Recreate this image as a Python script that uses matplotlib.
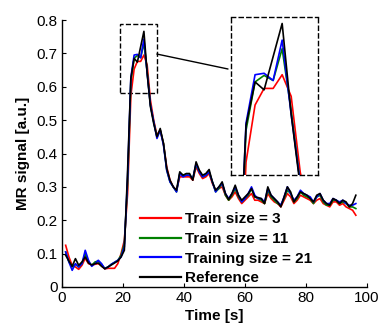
import numpy as np
import matplotlib
matplotlib.use("Agg")
import matplotlib.pyplot as plt
from matplotlib.patches import Rectangle, ConnectionPatch
from matplotlib.ticker import FuncFormatter

plt.rcParams["font.family"] = ["Liberation Sans", "DejaVu Sans"]

# sampling grid of the dynamic series (one frame every ~1.07 s)
n_frames = 90
frame_interval = 1.069
first_frame = 1.2
time_s = first_frame + frame_interval * np.arange(n_frames)

train_3 = [
    0.125, 0.090, 0.065, 0.060, 0.053, 0.065, 0.086, 0.070, 0.066, 0.068,
    0.070, 0.064, 0.054, 0.056, 0.056, 0.056, 0.070, 0.100, 0.140, 0.280,
    0.574, 0.653, 0.676, 0.676, 0.695,
    0.665, 0.560, 0.500, 0.455, 0.470, 0.430, 0.360, 0.320, 0.300, 0.290,
    0.330, 0.330, 0.330, 0.330, 0.320, 0.360, 0.340, 0.325, 0.330, 0.340,
    0.310, 0.290, 0.295, 0.300, 0.275, 0.260, 0.270, 0.285, 0.265, 0.250,
    0.260, 0.270, 0.280, 0.260, 0.260, 0.255, 0.250, 0.280, 0.265, 0.255,
    0.250, 0.240, 0.260, 0.280, 0.270, 0.250, 0.260, 0.275, 0.270, 0.265,
    0.260, 0.250, 0.260, 0.265, 0.250, 0.245, 0.240, 0.255, 0.255, 0.245,
    0.250, 0.240, 0.235, 0.230, 0.215,
]
train_11 = [
    0.105, 0.075, 0.060, 0.068, 0.060, 0.070, 0.100, 0.075, 0.065, 0.075,
    0.078, 0.068, 0.055, 0.060, 0.068, 0.074, 0.080, 0.095, 0.130, 0.310,
    0.618, 0.685, 0.694, 0.687, 0.731,
    0.645, 0.545, 0.495, 0.450, 0.470, 0.430, 0.350, 0.315, 0.300, 0.285,
    0.340, 0.335, 0.335, 0.335, 0.325, 0.365, 0.345, 0.330, 0.335, 0.345,
    0.315, 0.285, 0.295, 0.310, 0.275, 0.260, 0.275, 0.295, 0.270, 0.255,
    0.265, 0.275, 0.295, 0.270, 0.265, 0.260, 0.250, 0.290, 0.270, 0.260,
    0.250, 0.245, 0.265, 0.290, 0.280, 0.255, 0.265, 0.285, 0.275, 0.270,
    0.265, 0.250, 0.270, 0.275, 0.255, 0.245, 0.245, 0.260, 0.260, 0.250,
    0.255, 0.250, 0.240, 0.240, 0.235,
]
train_21 = [
    0.105, 0.075, 0.050, 0.070, 0.060, 0.070, 0.110, 0.080, 0.062, 0.070,
    0.080, 0.070, 0.055, 0.060, 0.068, 0.074, 0.080, 0.090, 0.120, 0.330,
    0.628, 0.695, 0.697, 0.687, 0.743,
    0.640, 0.545, 0.495, 0.445, 0.470, 0.425, 0.350, 0.315, 0.300, 0.285,
    0.340, 0.330, 0.335, 0.335, 0.325, 0.370, 0.345, 0.330, 0.335, 0.345,
    0.315, 0.285, 0.300, 0.310, 0.280, 0.265, 0.280, 0.300, 0.275, 0.255,
    0.265, 0.280, 0.300, 0.275, 0.265, 0.265, 0.255, 0.295, 0.275, 0.265,
    0.255, 0.245, 0.270, 0.300, 0.280, 0.260, 0.270, 0.290, 0.280, 0.275,
    0.270, 0.255, 0.270, 0.280, 0.260, 0.250, 0.250, 0.265, 0.260, 0.255,
    0.260, 0.250, 0.245, 0.245, 0.250,
]
reference = [
    0.095, 0.078, 0.062, 0.085, 0.065, 0.075, 0.090, 0.072, 0.066, 0.070,
    0.072, 0.062, 0.055, 0.060, 0.066, 0.072, 0.078, 0.090, 0.110, 0.350,
    0.625, 0.685, 0.674, 0.720, 0.766,
    0.640, 0.540, 0.490, 0.450, 0.475, 0.430, 0.355, 0.320, 0.300, 0.290,
    0.345, 0.335, 0.340, 0.340, 0.320, 0.375, 0.350, 0.335, 0.340, 0.352,
    0.315, 0.290, 0.300, 0.315, 0.280, 0.262, 0.280, 0.305, 0.275, 0.260,
    0.270, 0.280, 0.295, 0.270, 0.268, 0.265, 0.250, 0.300, 0.275, 0.265,
    0.255, 0.240, 0.270, 0.300, 0.285, 0.255, 0.270, 0.285, 0.280, 0.275,
    0.265, 0.255, 0.275, 0.280, 0.260, 0.250, 0.245, 0.265, 0.260, 0.250,
    0.260, 0.255, 0.240, 0.250, 0.275,
]

series = [
    ("Train size = 3", train_3, "#ff0000"),
    ("Train size = 11", train_11, "#008000"),
    ("Training size = 21", train_21, "#0000ff"),
    ("Reference", reference, "#000000"),
]

zoom_x = (19.0, 31.1)
zoom_y = (0.58, 0.787)
inset_xlim = (20.8, 31.1)
inset_ylim = (0.556, 0.775)


def draw_series(ax, lw):
    for label, values, color in series:
        ax.plot(time_s, values, color=color, lw=lw, label=label)


fig = plt.figure(figsize=(3.8, 3.26), dpi=100)
ax = fig.add_axes([62 / 380, 39 / 326, 305 / 380, 267 / 326])
draw_series(ax, lw=1.2)

ax.set_xlim(0, 100)
ax.set_ylim(0, 0.8)
ax.set_xticks([0, 20, 40, 60, 80, 100])
ax.set_yticks(np.arange(0, 0.81, 0.1))
ax.yaxis.set_major_formatter(FuncFormatter(lambda v, _: f"{v:g}"))
ax.tick_params(direction="in", length=3, width=0.8, labelsize=11, pad=3)
for side in ("top", "right"):
    ax.spines[side].set_visible(False)
for side in ("left", "bottom"):
    ax.spines[side].set_linewidth(1.0)

ax.set_xlabel("Time [s]", fontsize=11, fontweight="bold", labelpad=3)
ax.set_ylabel("MR signal [a.u.]", fontsize=11, fontweight="bold", labelpad=5)

leg = ax.legend(
    loc="lower left",
    bbox_to_anchor=(0.25, 0.0),
    frameon=False,
    borderaxespad=0,
    borderpad=0.1,
    handlelength=2.7,
    handletextpad=0.25,
    labelspacing=0.38,
    prop={"size": 11, "weight": "bold"},
)
for line in leg.get_lines():
    line.set_linewidth(1.6)

ax.add_patch(
    Rectangle(
        (zoom_x[0], zoom_y[0]),
        zoom_x[1] - zoom_x[0],
        zoom_y[1] - zoom_y[0],
        fill=False,
        edgecolor="black",
        linestyle="--",
        linewidth=1.0,
    )
)

inset = fig.add_axes([231 / 380, (326 - 175) / 326, 87 / 380, 158 / 326])
draw_series(inset, lw=1.2)
inset.set_xlim(*inset_xlim)
inset.set_ylim(*inset_ylim)
inset.set_xticks([])
inset.set_yticks([])
for spine in inset.spines.values():
    spine.set_linestyle((0, (3, 2.5)))
    spine.set_linewidth(1.0)

fig.add_artist(
    ConnectionPatch(
        xyA=(zoom_x[1], 0.698),
        coordsA=ax.transData,
        xyB=(228 / 380, 1 - 69 / 326),
        coordsB="figure fraction",
        color="black",
        linewidth=1.0,
    )
)

fig.savefig("out.png", dpi=100)
